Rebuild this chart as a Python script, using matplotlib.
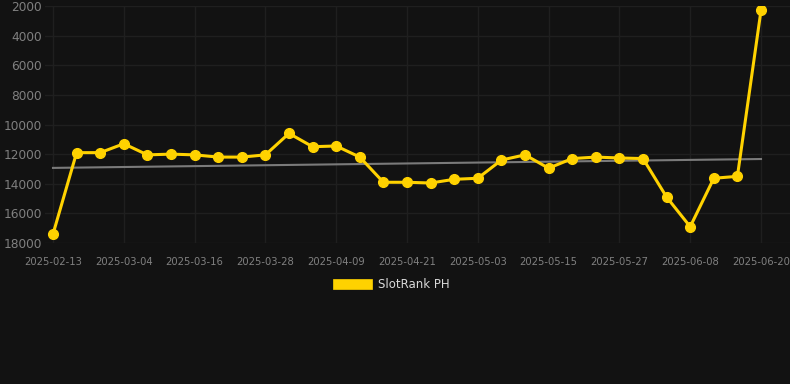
import matplotlib
matplotlib.use("Agg")
import matplotlib.pyplot as plt
from matplotlib.patches import Rectangle

dates = ["2025-02-13", "2025-02-20", "2025-02-27", "2025-03-04", "2025-03-08", "2025-03-12",
         "2025-03-16", "2025-03-20", "2025-03-24", "2025-03-28", "2025-04-01", "2025-04-05",
         "2025-04-09", "2025-04-13", "2025-04-17", "2025-04-21", "2025-04-25", "2025-04-29",
         "2025-05-03", "2025-05-07", "2025-05-11", "2025-05-15", "2025-05-19", "2025-05-23",
         "2025-05-27", "2025-05-31", "2025-06-04", "2025-06-08", "2025-06-12", "2025-06-16",
         "2025-06-20"]
ranks = [17400, 11900, 11900, 11300, 12050, 12000, 12050, 12200, 12200, 12050,
         10600, 11500, 11450, 12200, 13900, 13900, 13950, 13700, 13630, 12400,
         12050, 12950, 12300, 12200, 12260, 12300, 14900, 16900, 13630, 13500, 2300]
trend_start = 12930
trend_end = 12330
y_ticks = [2000, 4000, 6000, 8000, 10000, 12000, 14000, 16000, 18000]
series_name = "SlotRank PH"

BG = "#121212"
GRID = "#1f1f1f"
YEL = "#FFD200"
TXT = "#808080"

W, H = 790, 384
fig = plt.figure(figsize=(W / 100, H / 100), dpi=100, facecolor=BG)
left_px, right_px, top_px, bot_px = 45, 790, 6, 243
ax = fig.add_axes([left_px / W, 1 - bot_px / H, (right_px - left_px) / W, (bot_px - top_px) / H])
ax.set_facecolor(BG)

x = list(range(len(dates)))
step = 23.6
ax.set_xlim(-(53 - left_px) / step, (len(dates) - 1) + (right_px - 761) / step)
ax.set_ylim(18000, 2000)

ax.plot([0, len(dates) - 1], [trend_start, trend_end], color="#7a7a7a", lw=1.5, zorder=2)
ax.plot(x, ranks, color=YEL, lw=2.2, marker="o", markersize=7, zorder=3)

tick_idx = list(range(0, len(dates), 3))
ax.set_xticks(tick_idx)
ax.set_xticklabels([dates[i] for i in tick_idx])
ax.set_yticks(y_ticks)
ax.set_yticklabels([str(v) for v in y_ticks])
ax.grid(True, color=GRID, lw=1)
ax.tick_params(axis="y", colors=TXT, labelsize=8.7, length=0, pad=2)
ax.tick_params(axis="x", colors=TXT, labelsize=7.2, length=0, pad=10)
for s in ax.spines.values():
    s.set_visible(False)

# legend
fig.patches.append(Rectangle((333 / W, 1 - 289 / H), 39 / W, 10 / H,
                             transform=fig.transFigure, facecolor=YEL, edgecolor=YEL, lw=0.5))
fig.text(378 / W, 1 - 284.5 / H, series_name, color="#d8d8d8", fontsize=8.5, va="center", ha="left")

fig.savefig("out.png", dpi=100, facecolor=BG)
